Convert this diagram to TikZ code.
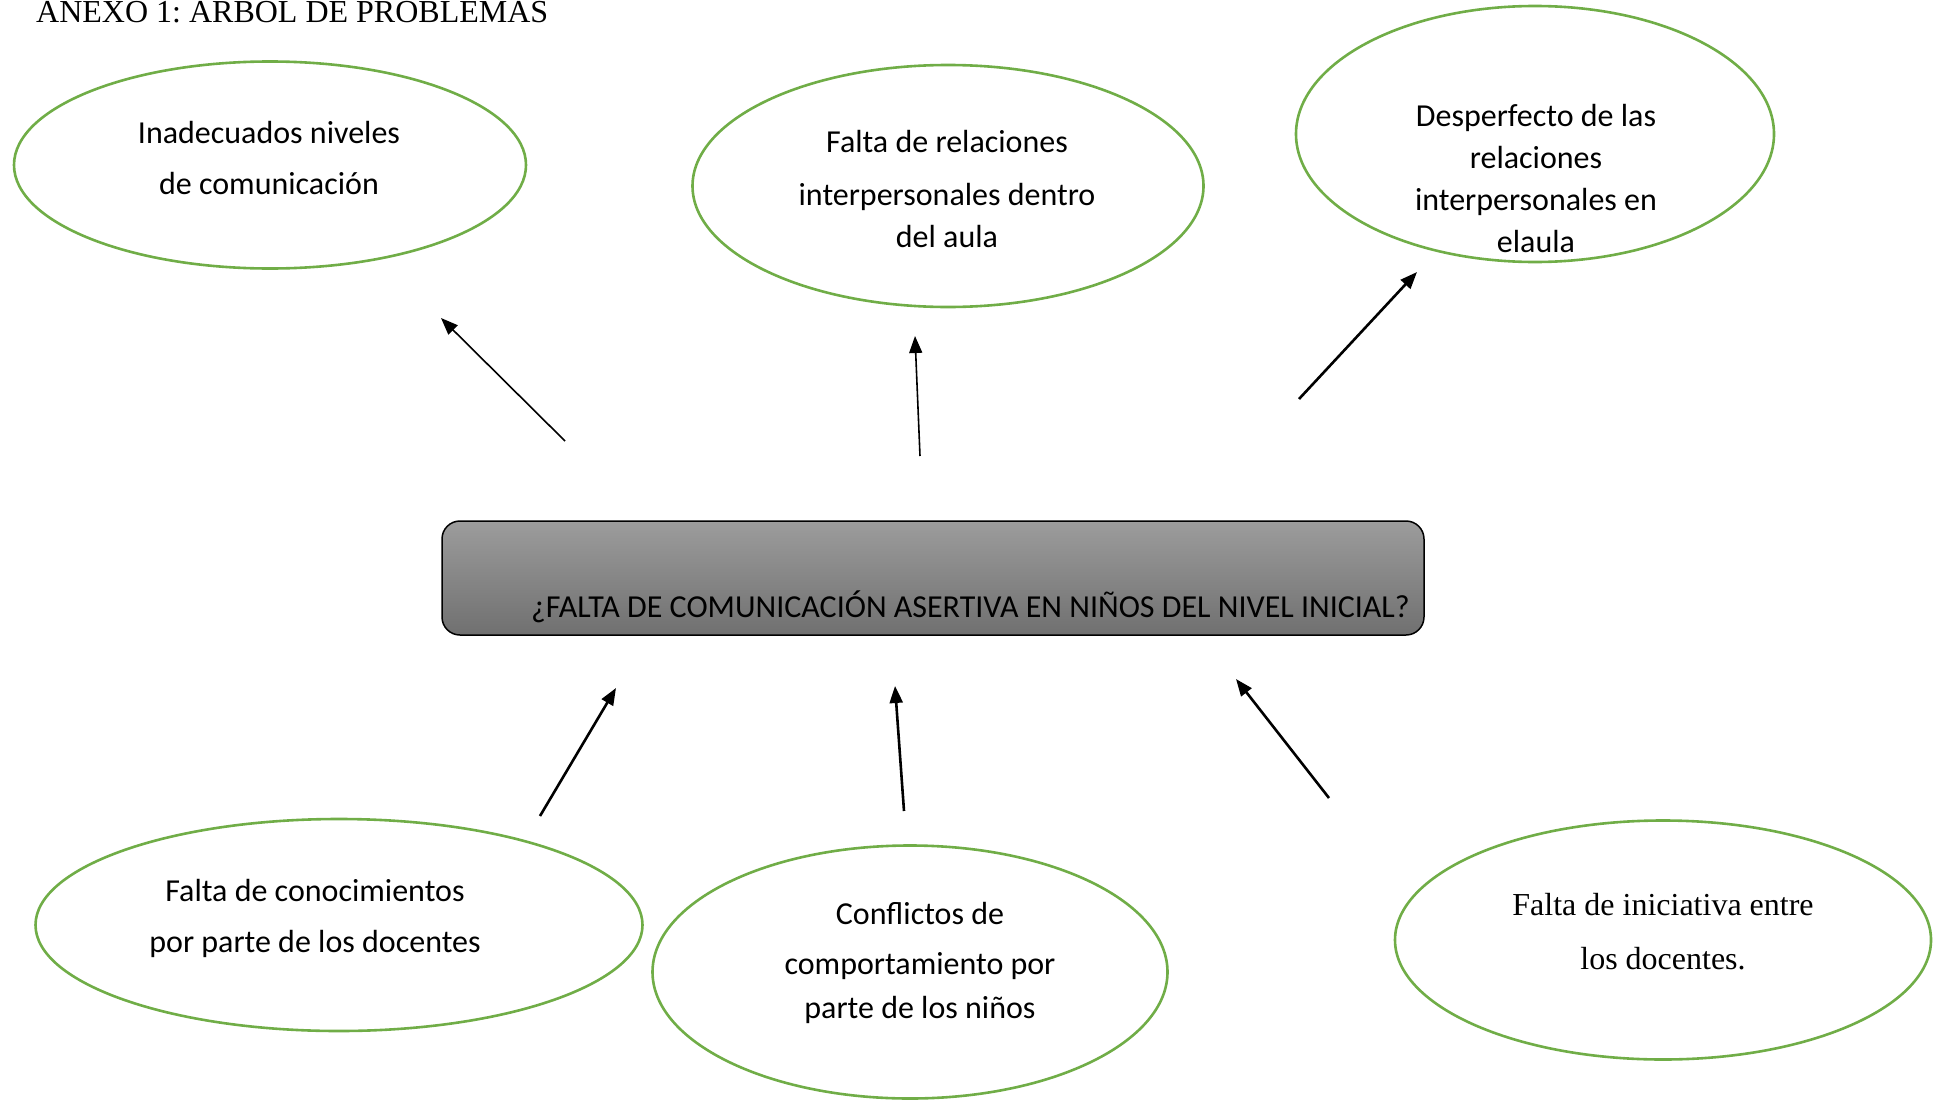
\documentclass[tikz,border=0pt]{standalone}
\usepackage{fontspec}
\setmainfont{Carlito}
\newfontfamily\timesf{Liberation Serif}
\usetikzlibrary{shapes.geometric,arrows.meta}
\definecolor{egreen}{RGB}{112,173,71}
\tikzset{
  oval/.style={draw=egreen, line width=2.6pt, ellipse, inner sep=0pt},
  lbl/.style={anchor=base, inner sep=0pt, font=\fontsize{32}{38}\selectfont},
  tlbl/.style={anchor=base, inner sep=0pt, font=\timesf\fontsize{32}{38}\selectfont},
  arr/.style={line width=2.6pt, -{Triangle[length=17pt,width=13pt]}},
  thinarr/.style={line width=1.6pt, -{Triangle[length=17pt,width=13pt]}},
}
\frenchspacing
\begin{document}
\begin{tikzpicture}[x=1pt,y=-1pt]
\useasboundingbox (0,0) rectangle (1936,1100);
% title
\node[anchor=base west, inner sep=0pt, font=\timesf\fontsize{32}{38}\selectfont] (title) at (36,22) {ANEXO 1: ARBOL DE PROBLEMAS};
% ellipses
\node[oval, minimum width=512pt, minimum height=207pt] (e1) at (270,165) {};
\node[oval, minimum width=511pt, minimum height=242pt] (e2) at (948,186) {};
\node[oval, minimum width=478pt, minimum height=256pt] (e3) at (1535,134) {};
\node[oval, minimum width=607pt, minimum height=212pt] (e4) at (339,925) {};
\node[oval, minimum width=515pt, minimum height=253pt] (e5) at (910,972) {};
\node[oval, minimum width=536pt, minimum height=239pt] (e6) at (1663,940) {};
% texts
\node[lbl] (t1a) at (269,143) {Inadecuados niveles};
\node[lbl] (t1b) at (269,194) {de comunicación};
\node[lbl] (t2a) at (947,152) {Falta de relaciones};
\node[lbl] (t2b) at (947,205) {interpersonales dentro};
\node[lbl] (t2c) at (947,247) {del aula};
\node[lbl] (t3a) at (1536,126) {Desperfecto de las};
\node[lbl] (t3b) at (1536,168) {relaciones};
\node[lbl] (t3c) at (1536,210) {interpersonales en};
\node[lbl] (t3d) at (1536,252) {elaula};
\node[lbl] (t4a) at (315,901) {Falta de conocimientos};
\node[lbl] (t4b) at (315,952) {por parte de los docentes};
\node[lbl] (t5a) at (920,924) {Conflictos de};
\node[lbl] (t5b) at (920,974) {comportamiento por};
\node[lbl] (t5c) at (920,1018) {parte de los niños};
\node[tlbl] (t6a) at (1663,915) {Falta de iniciativa entre};
\node[tlbl] (t6b) at (1663,969) {los docentes.};
% central box
\draw[line width=1.5pt, rounded corners=18pt, top color={rgb,255:red,156;green,156;blue,156}, bottom color={rgb,255:red,112;green,112;blue,112}] (442,521) rectangle (1424,635);
\node[anchor=base east, inner sep=0pt, font=\fontsize{32}{38}\selectfont] (ctext) at (1410,617) {¿FALTA DE COMUNICACIÓN ASERTIVA EN NIÑOS DEL NIVEL INICIAL?};
% arrows
\coordinate (a1s) at (565,441); \coordinate (a1e) at (441,318);
\coordinate (a2s) at (920,456); \coordinate (a2e) at (915,336);
\coordinate (a3s) at (1299,399); \coordinate (a3e) at (1417,272);
\coordinate (a4s) at (540,816); \coordinate (a4e) at (616,688);
\coordinate (a5s) at (904,811); \coordinate (a5e) at (895,686);
\coordinate (a6s) at (1329,798); \coordinate (a6e) at (1236,679);
\draw[thinarr] (a1s) -- (a1e);
\draw[thinarr] (a2s) -- (a2e);
\draw[arr] (a3s) -- (a3e);
\draw[arr] (a4s) -- (a4e);
\draw[arr] (a5s) -- (a5e);
\draw[arr] (a6s) -- (a6e);
\end{tikzpicture}
\end{document}
